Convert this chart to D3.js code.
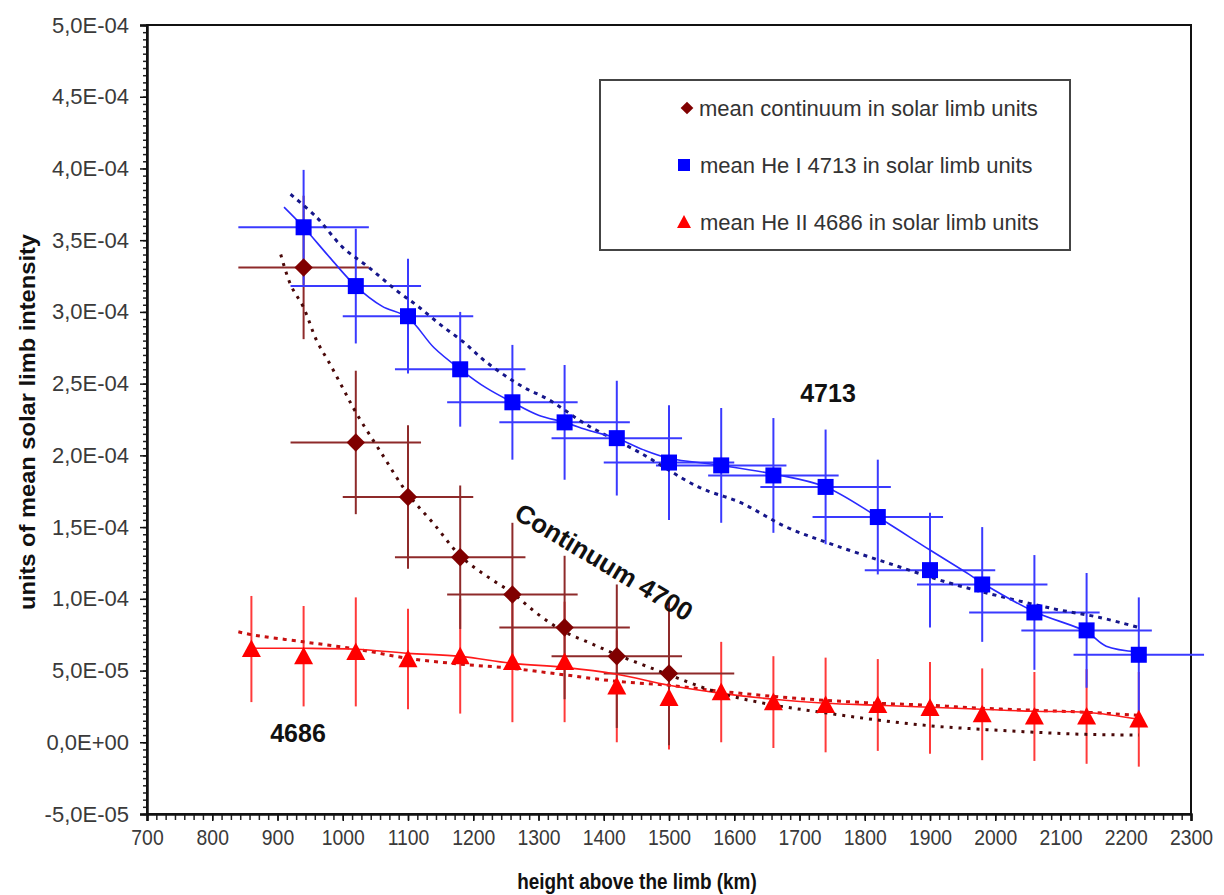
<!DOCTYPE html>
<html><head><meta charset="utf-8">
<script src="https://cdn.jsdelivr.net/npm/d3@7"></script>
<style>
body{margin:0;background:#fff;}
svg{display:block;font-family:"Liberation Sans",Arial,sans-serif;}
</style>
</head><body>
<svg id="chart" width="1224" height="895"></svg>
<script>
// ---------- data ----------
const xTickValues = [700,800,900,1000,1100,1200,1300,1400,1500,1600,1700,1800,1900,2000,2100,2200,2300];
const yTickValues = [-5e-5,0,5e-5,1e-4,1.5e-4,2e-4,2.5e-4,3e-4,3.5e-4,4e-4,4.5e-4,5e-4];
const yTickLabels = ["-5,0E-05","0,0E+00","5,0E-05","1,0E-04","1,5E-04","2,0E-04","2,5E-04","3,0E-04","3,5E-04","4,0E-04","4,5E-04","5,0E-04"];

// mean continuum (diamonds)
const contHeights = [940,1020,1100,1180,1260,1340,1420,1500];
const contValues  = [33.1e-5,20.9e-5,17.1e-5,12.9e-5,10.3e-5,8.0e-5,6.0e-5,4.8e-5];
const contErrY    = [5.0e-5,5.0e-5,5.0e-5,5.0e-5,5.0e-5,5.0e-5,5.0e-5,5.0e-5];
const contErrX    = [100,100,100,100,100,100,100,100];

// mean He I 4713 (squares)
const heIHeights = [940,1020,1100,1180,1260,1340,1420,1500,1580,1660,1740,1820,1900,1980,2060,2140,2220];
const heIValues  = [35.9e-5,31.8e-5,29.7e-5,26.0e-5,23.7e-5,22.3e-5,21.2e-5,19.5e-5,19.3e-5,18.6e-5,17.8e-5,15.7e-5,12.0e-5,11.0e-5,9.05e-5,7.8e-5,6.1e-5];
const heIErrY    = [4.0e-5,4.0e-5,4.0e-5,4.0e-5,4.0e-5,4.0e-5,4.0e-5,4.0e-5,4.0e-5,4.0e-5,4.0e-5,4.0e-5,4.0e-5,4.0e-5,4.0e-5,4.0e-5,4.0e-5];
const heIErrX    = [100,100,100,100,100,100,100,100,100,100,100,100,100,100,100,100,100];

// mean He II 4686 (triangles)
const heIIHeights = [860,940,1020,1100,1180,1260,1340,1420,1500,1580,1660,1740,1820,1900,1980,2060,2140,2220];
const heIIValues  = [6.5e-5,6.0e-5,6.3e-5,5.8e-5,6.0e-5,5.6e-5,5.6e-5,3.9e-5,3.1e-5,3.5e-5,2.8e-5,2.6e-5,2.6e-5,2.4e-5,1.95e-5,1.8e-5,1.8e-5,1.6e-5];
const heIIErrY    = [3.7e-5,3.5e-5,3.8e-5,3.5e-5,4.0e-5,4.2e-5,4.2e-5,3.9e-5,3.6e-5,3.5e-5,3.2e-5,3.3e-5,3.2e-5,3.2e-5,3.2e-5,3.1e-5,3.3e-5,3.3e-5];

// fitted / model curves
const heIFitX = [910,940,980,1020,1060,1100,1140,1180,1220,1260,1300,1340,1380,1420,1460,1500,1580,1660,1740,1820,1900,1960,1980,2060,2140,2170,2220];
const heIFitY = [37.3e-5,35.9e-5,33.8e-5,31.8e-5,30.4e-5,29.6e-5,27.5e-5,26.0e-5,24.7e-5,23.7e-5,22.8e-5,22.3e-5,21.7e-5,21.2e-5,20.4e-5,19.8e-5,19.3e-5,18.7e-5,17.8e-5,15.7e-5,13.4e-5,11.7e-5,11.1e-5,9.1e-5,7.7e-5,6.7e-5,6.3e-5];

const heIModelX = [920,960,1000,1040,1085,1115,1150,1185,1220,1275,1315,1375,1455,1545,1610,1680,1750,1835,1930,2005,2090,2160,2220];
const heIModelY = [38.2e-5,36.6e-5,34.5e-5,33.1e-5,31.4e-5,30.4e-5,29.1e-5,27.9e-5,26.5e-5,24.8e-5,23.9e-5,22.1e-5,20.2e-5,17.8e-5,16.7e-5,15.0e-5,13.8e-5,12.5e-5,11.1e-5,10.2e-5,9.3e-5,8.7e-5,8.0e-5];

const contModelX = [905,920,940,960,980,1000,1020,1060,1100,1140,1180,1220,1260,1300,1340,1380,1420,1460,1500,1580,1660,1740,1820,1900,1980,2060,2140,2220];
const contModelY = [34.0e-5,31.9e-5,30.3e-5,28.0e-5,26.4e-5,24.7e-5,23.0e-5,20.1e-5,17.3e-5,15.2e-5,13.0e-5,11.6e-5,10.4e-5,8.9e-5,7.7e-5,6.9e-5,6.1e-5,5.4e-5,4.7e-5,3.4e-5,2.6e-5,2.05e-5,1.55e-5,1.15e-5,0.9e-5,0.7e-5,0.55e-5,0.5e-5];

const heIIFitX = [860,940,1020,1100,1180,1260,1340,1420,1500,1580,1660,1740,1820,1900,1980,2060,2140,2220];
const heIIFitY = [6.55e-5,6.55e-5,6.48e-5,6.20e-5,5.99e-5,5.50e-5,5.22e-5,4.74e-5,3.97e-5,3.41e-5,3.00e-5,2.72e-5,2.58e-5,2.44e-5,2.30e-5,2.16e-5,2.09e-5,1.60e-5];

const heIIModelX = [840,860,940,1020,1100,1180,1260,1340,1420,1500,1580,1660,1740,1820,1900,1980,2060,2140,2220];
const heIIModelY = [7.7e-5,7.5e-5,7.0e-5,6.5e-5,5.85e-5,5.45e-5,5.15e-5,4.7e-5,4.25e-5,3.97e-5,3.55e-5,3.2e-5,2.92e-5,2.72e-5,2.58e-5,2.37e-5,2.23e-5,2.09e-5,1.88e-5];

const legendLabels = ["mean continuum in solar limb units","mean He I 4713 in solar limb units","mean He II 4686 in solar limb units"];
const annotations = ["4713","Continuum 4700","4686"];
const xTitle = "height above the limb (km)";
const yTitle = "units of mean solar limb intensity";

// ---------- layout ----------
const svg = d3.select("#chart");
const L = 147, R = 1191, T = 25, B = 814;
const x = d3.scaleLinear().domain([700,2300]).range([L,R]);
const y = d3.scaleLinear().domain([-5e-5,5e-4]).range([B,T]);

const C_CONT = "#800000", C_CONT_ERR = "#8e2a2a";
const C_HE1 = "#0000ff", C_HE1_ERR = "#3a3aff";
const C_HE2 = "#ff0000", C_HE2_ERR = "#ff3a3a";

svg.append("rect").attr("width",1224).attr("height",895).attr("fill","#fff");

// plot frame
svg.append("rect").attr("x",L).attr("y",T).attr("width",R-L).attr("height",B-T)
  .attr("fill","none").attr("stroke","#111").attr("stroke-width",2);

// minor ticks
const yMinor = d3.range(0,111).map(i => -5e-5 + i*5e-6);
svg.append("g").attr("transform",`translate(${L},0)`)
  .call(d3.axisLeft(y).tickValues(yMinor).tickSize(4).tickFormat(""))
  .call(g => g.select(".domain").remove())
  .selectAll("line").attr("stroke","#222").attr("stroke-width",1.5);
const xMinor = d3.range(0,113).map(i => 700 + i*100/7);
svg.append("g").attr("transform",`translate(0,${B})`)
  .call(d3.axisBottom(x).tickValues(xMinor).tickSize(6).tickFormat(""))
  .call(g => g.select(".domain").remove())
  .selectAll("line").attr("stroke","#222").attr("stroke-width",1.5);

// major axes
const yAxis = svg.append("g").attr("transform",`translate(${L},0)`)
  .call(d3.axisLeft(y).tickValues(yTickValues).tickSize(7).tickPadding(11)
    .tickFormat((d,i)=>yTickLabels[i]));
yAxis.select(".domain").attr("stroke","#111").attr("stroke-width",2.5);
yAxis.selectAll("line").attr("stroke","#111").attr("stroke-width",1.5);
yAxis.selectAll("text").attr("font-size",22).attr("fill","#3a3a3a")
  .attr("font-family","'Liberation Sans',Arial,sans-serif");

const xAxis = svg.append("g").attr("transform",`translate(0,${B})`)
  .call(d3.axisBottom(x).tickValues(xTickValues).tickSize(7).tickPadding(8).tickFormat(d3.format("d")));
xAxis.select(".domain").attr("stroke","#111").attr("stroke-width",2.5);
xAxis.selectAll("line").attr("stroke","#111").attr("stroke-width",1.5);
xAxis.selectAll("text").attr("font-size",22).attr("fill","#3a3a3a")
  .attr("font-family","'Liberation Sans',Arial,sans-serif")
  .attr("transform","scale(0.88,1)");

// axis titles
svg.append("text").attr("x",637).attr("y",889).attr("text-anchor","middle")
  .attr("font-size",22).attr("font-weight","bold").attr("fill","#111")
  .attr("transform","translate(637,0) scale(0.86,1) translate(-637,0)")
  .text(xTitle);
svg.append("text").attr("transform","translate(35,422) rotate(-90)")
  .attr("text-anchor","middle").attr("font-size",22).attr("font-weight","bold").attr("fill","#111")
  .attr("textLength",376).attr("lengthAdjust","spacingAndGlyphs")
  .text(yTitle);

// ---------- error bars ----------
function errorBars(hs, vs, ey, ex, color){
  const g = svg.append("g").attr("stroke",color).attr("stroke-width",2);
  hs.forEach((h,i)=>{
    g.append("line").attr("x1",x(h)).attr("x2",x(h)).attr("y1",y(vs[i]-ey[i])).attr("y2",y(vs[i]+ey[i]));
    if(ex) g.append("line").attr("x1",x(h-ex[i])).attr("x2",x(h+ex[i])).attr("y1",y(vs[i])).attr("y2",y(vs[i]));
  });
}
errorBars(heIIHeights, heIIValues, heIIErrY, null, C_HE2_ERR);
errorBars(contHeights, contValues, contErrY, contErrX, C_CONT_ERR);
errorBars(heIHeights, heIValues, heIErrY, heIErrX, C_HE1_ERR);

// ---------- lines ----------
function curve(xs, ys, color, width, dash){
  const line = d3.line().x(d=>x(d[0])).y(d=>y(d[1])).curve(d3.curveCatmullRom.alpha(0.5));
  svg.append("path").datum(xs.map((v,i)=>[v,ys[i]])).attr("d",line)
    .attr("fill","none").attr("stroke",color).attr("stroke-width",width)
    .attr("stroke-dasharray",dash||null).attr("stroke-linecap","butt");
}
curve(heIIModelX, heIIModelY, "#c81010", 3, "4,5");
curve(heIIFitX, heIIFitY, "#ff1a1a", 1.6);
curve(contModelX, contModelY, "#4a0808", 3, "3,6");
curve(heIModelX, heIModelY, "#16168a", 3, "4,5");
curve(heIFitX, heIFitY, "#2a2aff", 1.6);

// ---------- markers ----------
const triPath = s => `M0,${-s}L${s},${s*0.85}L${-s},${s*0.85}Z`;
svg.append("g").selectAll("path").data(heIIHeights).join("path")
  .attr("d",triPath(9.5)).attr("fill",C_HE2)
  .attr("transform",(d,i)=>`translate(${x(d)},${y(heIIValues[i])})`);
svg.append("g").selectAll("rect").data(contHeights).join("rect")
  .attr("x",-6.5).attr("y",-6.5).attr("width",13).attr("height",13).attr("fill",C_CONT)
  .attr("transform",(d,i)=>`translate(${x(d)},${y(contValues[i])}) rotate(45)`);
svg.append("g").selectAll("rect").data(heIHeights).join("rect")
  .attr("x",-8).attr("y",-8).attr("width",16).attr("height",16).attr("fill",C_HE1)
  .attr("transform",(d,i)=>`translate(${x(d)},${y(heIValues[i])})`);

// ---------- annotations ----------
svg.append("text").attr("x",828).attr("y",402).attr("text-anchor","middle")
  .attr("font-size",25).attr("font-weight","bold").attr("fill","#111").text(annotations[0]);
svg.append("text").attr("transform","translate(604,562) rotate(31)")
  .attr("text-anchor","middle").attr("dy","0.35em")
  .attr("font-size",26).attr("font-weight","bold").attr("fill","#111").text(annotations[1]);
svg.append("text").attr("x",298).attr("y",742).attr("text-anchor","middle")
  .attr("font-size",25).attr("font-weight","bold").attr("fill","#111").text(annotations[2]);

// ---------- legend ----------
const lg = svg.append("g");
lg.append("rect").attr("x",600).attr("y",80).attr("width",470).attr("height",170)
  .attr("fill","#fff").attr("stroke","#444").attr("stroke-width",2);
const rowsY = [108,165,222];
lg.append("rect").attr("x",-4.5).attr("y",-4.5).attr("width",9).attr("height",9).attr("fill",C_CONT)
  .attr("transform",`translate(687,${rowsY[0]}) rotate(45)`);
lg.append("rect").attr("x",678).attr("y",rowsY[1]-6).attr("width",12).attr("height",12).attr("fill",C_HE1);
lg.append("path").attr("d",triPath(7)).attr("fill",C_HE2).attr("transform",`translate(684,${rowsY[2]})`);
legendLabels.forEach((t,i)=>{
  lg.append("text").attr("x",i===0?699:700).attr("y",rowsY[i]).attr("dy","0.35em")
    .attr("font-size",22).attr("fill","#333").text(t);
});
</script>
</body></html>
